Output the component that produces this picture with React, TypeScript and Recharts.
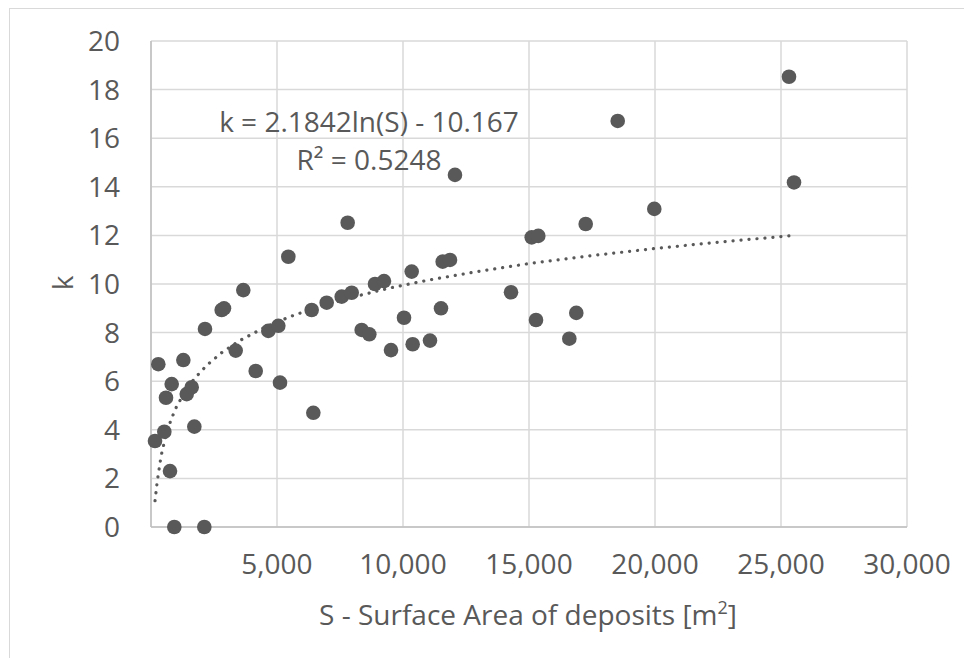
import React from "react";
import {
  ScatterChart,
  Scatter,
  XAxis,
  YAxis,
  CartesianGrid,
  Label,
} from "recharts";

// measured deposits: surface area S [m2] and k
const areaS = [
  159, 290, 528, 595, 754, 821, 925, 1283, 1417, 1615, 1720, 2116, 2143, 2805,
  2897, 3361, 3663, 4155, 4656, 5053, 5119, 5450, 6376, 6442, 6971, 7567, 7804,
  7963, 8360, 8663, 8889, 9246, 9524, 10040, 10345, 10384, 11071, 11508, 11575,
  11865, 12063, 14286, 15107, 15278, 15369, 16600, 16877, 17250, 18520, 19972,
  25317, 25516,
];
const kValues = [
  3.54, 6.7, 3.92, 5.32, 2.3, 5.88, 0, 6.87, 5.47, 5.75, 4.13, 0, 8.15, 8.93,
  9.0, 7.26, 9.75, 6.42, 8.07, 8.28, 5.94, 11.12, 8.93, 4.7, 9.23, 9.48, 12.52,
  9.64, 8.11, 7.93, 10.0, 10.12, 7.28, 8.61, 10.51, 7.52, 7.67, 9.0, 10.92,
  10.99, 14.49, 9.66, 11.92, 8.52, 11.98, 7.75, 8.81, 12.47, 16.71, 13.09,
  18.53, 14.18,
];

// dotted log trendline
const trendS = [
  160, 250, 400, 600, 800, 1000, 1300, 1700, 2200, 2800, 3500, 4500, 5500,
  6500, 8000, 9500, 11000, 13000, 15000, 17500, 20000, 22500, 25330,
];
const trendK = [
  1.08, 1.89, 2.92, 3.81, 4.43, 4.92, 5.49, 6.08, 6.64, 7.17, 7.66, 8.21, 8.65,
  9.01, 9.46, 9.84, 10.16, 10.52, 10.84, 11.17, 11.46, 11.72, 11.98,
];

const xTicks = [0, 5000, 10000, 15000, 20000, 25000, 30000];
const yTicks = [0, 2, 4, 6, 8, 10, 12, 14, 16, 18, 20];

const points = areaS.map((s, i) => ({ s, k: kValues[i] }));
const trend = trendS.map((s, i) => ({ s, k: trendK[i] }));

const GREY = "#595959";
const FONT = "'Open Sans', sans-serif";
const FS = 28;

export default function App() {
  return (
    <div style={{ position: "absolute", left: 0, top: 0, width: 964, height: 658 }}>
      <div
        style={{
          position: "absolute",
          left: 9,
          top: 8,
          width: 970,
          height: 670,
          border: "1.5px solid #d9d9d9",
          boxSizing: "border-box",
        }}
      />
      <ScatterChart
        width={964}
        height={658}
        margin={{ top: 41, right: 57, left: 0, bottom: 0 }}
        style={{ position: "absolute", left: 0, top: 0, fontFamily: FONT }}
      >
        <CartesianGrid stroke="#d9d9d9" strokeWidth={1.5} />
        <XAxis
          type="number"
          dataKey="s"
          domain={[0, 30000]}
          ticks={xTicks}
          height={131}
          tickLine={false}
          tickSize={0}
          tickMargin={27}
          axisLine={{ stroke: "#bfbfbf", strokeWidth: 1.5 }}
          tick={{ fill: GREY, fontSize: FS, fontFamily: FONT }}
          tickFormatter={(v: number) => (v === 0 ? "" : v.toLocaleString("en-US"))}
          interval={0}
        >
          <Label
            content={() => (
              <text
                x={528}
                y={625}
                textAnchor="middle"
                fill={GREY}
                fontSize={FS}
                fontFamily={FONT}
              >
                S - Surface Area of deposits [m
                <tspan fontSize={18} dy={-11}>2</tspan>
                <tspan dy={11}>]</tspan>
              </text>
            )}
          />
        </XAxis>
        <YAxis
          type="number"
          dataKey="k"
          domain={[0, 20]}
          ticks={yTicks}
          width={151}
          tickLine={false}
          tickSize={0}
          tickMargin={31}
          axisLine={{ stroke: "#bfbfbf", strokeWidth: 1.5 }}
          tick={{ fill: GREY, fontSize: FS, fontFamily: FONT }}
          interval={0}
        >
          <Label
            content={() => (
              <text
                x={73}
                y={283}
                transform="rotate(-90 73 283)"
                textAnchor="middle"
                fill={GREY}
                fontSize={FS}
                fontFamily={FONT}
              >
                k
              </text>
            )}
          />
        </YAxis>
        <Scatter
          data={trend}
          isAnimationActive={false}
          line={{
            stroke: GREY,
            strokeWidth: 3.2,
            strokeDasharray: "0.1 7.9",
            strokeLinecap: "round",
          }}
          lineType="joint"
          shape={() => <g />}
        />
        <Scatter
          data={points}
          isAnimationActive={false}
          shape={(p: any) => <circle cx={p.cx} cy={p.cy} r={7.3} fill={GREY} />}
        />
        <text x={369} y={132} textAnchor="middle" fill={GREY} fontSize={FS} fontFamily={FONT}>
          k = 2.1842ln(S) - 10.167
        </text>
        <text x={369} y={170} textAnchor="middle" fill={GREY} fontSize={FS} fontFamily={FONT}>
          R² = 0.5248
        </text>
      </ScatterChart>
    </div>
  );
}
